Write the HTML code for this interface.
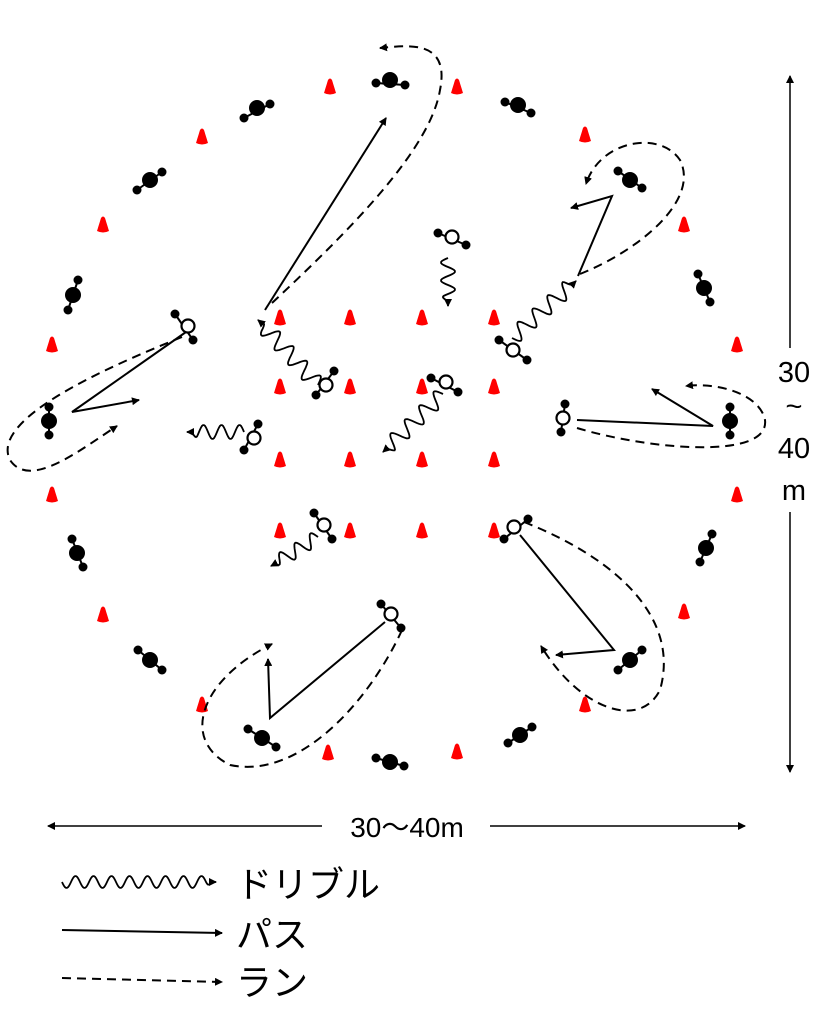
<!DOCTYPE html>
<html><head><meta charset="utf-8"><style>
html,body{margin:0;padding:0;background:#fff;width:828px;height:1023px;overflow:hidden}
svg{display:block}
</style></head><body>
<svg id="s" width="828" height="1023" viewBox="0 0 828 1023" xmlns="http://www.w3.org/2000/svg">
<defs>
<marker id="ah" markerWidth="8" markerHeight="8" refX="7" refY="4" orient="auto" markerUnits="userSpaceOnUse"><path d="M0,0 L8,4 L0,8 Z" fill="#000"/></marker>
<marker id="da" markerWidth="8" markerHeight="8" refX="7" refY="4" orient="auto-start-reverse" markerUnits="userSpaceOnUse"><path d="M0,0 L8,4 L0,8 Z" fill="#000"/></marker>
</defs>
<g id="g" fill="none" stroke="#000" stroke-width="2"></g>
<g font-family="Liberation Sans, Noto Sans CJK JP, sans-serif" fill="#000">
<line x1="48" y1="826" x2="745" y2="826" stroke="#000" stroke-width="1.5" marker-start="url(#da)" marker-end="url(#da)"/>
<rect x="322" y="808" width="168" height="36" fill="#fff"/>
<text x="407" y="837" font-size="28" text-anchor="middle">30〜40m</text>
<line x1="790" y1="76" x2="790" y2="772" stroke="#000" stroke-width="1.5" marker-start="url(#da)" marker-end="url(#da)"/>
<rect x="768" y="348" width="44" height="164" fill="#fff"/>
<text x="794" y="382" font-size="29" text-anchor="middle">30</text>
<text x="794" y="416" font-size="29" text-anchor="middle">~</text>
<text x="794" y="458" font-size="29" text-anchor="middle">40</text>
<text x="794" y="500" font-size="29" text-anchor="middle">m</text>
<text x="236" y="897" font-size="36" font-family="Noto Sans CJK JP, sans-serif">ドリブル</text>
<text x="236" y="947" font-size="36" font-family="Noto Sans CJK JP, sans-serif">パス</text>
<text x="236" y="995" font-size="36" font-family="Noto Sans CJK JP, sans-serif">ラン</text>
</g>
</svg>
<script>
var g=document.getElementById('g'),NS='http://www.w3.org/2000/svg';
function el(t,a,p){var e=document.createElementNS(NS,t);for(var k in a)e.setAttribute(k,a[k]);(p||g).appendChild(e);return e;}
function cone(x,y){el('path',{d:'M'+(x-6)+','+(y+6)+' L'+(x-2)+','+(y-7)+' Q'+x+','+(y-10)+' '+(x+2)+','+(y-7)+' L'+(x+6)+','+(y+6)+' Q'+x+','+(y+9)+' '+(x-6)+','+(y+6)+'Z',fill:'#f00',stroke:'none'});}
function pl(x,y,a,b,c,d,w){el('line',{x1:x+a,y1:y+b,x2:x+c,y2:y+d,'stroke-width':2});
el('circle',{cx:x+a,cy:y+b,r:4.5,fill:'#000',stroke:'none'});el('circle',{cx:x+c,cy:y+d,r:4.5,fill:'#000',stroke:'none'});
if(w)el('circle',{cx:x,cy:y,r:6.5,fill:'#fff','stroke-width':2.2});else el('circle',{cx:x,cy:y,r:8,fill:'#000',stroke:'none'});}
[[330,87],[457,87],[202,137],[585,135],[103,225],[684,225],[52,345],[737,345],[52,495],[737,495],[103,615],[684,612],[202,705],[585,705],[328,753],[457,752]].forEach(function(c){cone(c[0],c[1]);});
[280,350,422,494].forEach(function(x){[318,387,460,531].forEach(function(y){cone(x,y);});});
[[390,80,-14,3,15,5],[257,108,-13,10,13,-4],[518,105,-13,-3,13,8],[150,180,-13,10,12,-8],[630,180,-12,-9,12,8],[73,295,5,-15,-5,15],[704,288,-6,-14,6,14],[49,421,0,-14,0,14],[730,421,0,-14,0,14],[77,553,-5,-14,6,14],[706,548,6,-14,-6,14],[150,660,-12,-10,12,10],[630,660,12,-10,-12,10],[262,738,-14,-9,14,9],[520,735,-12,8,12,-8],[390,762,-14,-4,14,4]].forEach(function(p){pl(p[0],p[1],p[2],p[3],p[4],p[5],0);});
[[452,237,-14,-4,14,8],[188,326,-13,-12,5,14],[513,350,-14,-10,14,10],[326,385,8,-14,-10,10],[446,382,-15,-4,12,10],[254,438,4,-14,-10,12],[563,418,2,-14,-2,14],[324,525,-10,-12,8,14],[514,527,14,-8,-10,12],[391,614,-10,-10,10,14]].forEach(function(p){pl(p[0],p[1],p[2],p[3],p[4],p[5],1);});
function arrow(d,dash){var a={d:d,'marker-end':'url(#ah)','stroke-width':2};if(dash){a['stroke-dasharray']='9 6';}el('path',a);}
arrow('M265,310 L386,118');
arrow('M186,332 L72,412 L139,400');
arrow('M578,276 L612,196 L571,208');
arrow('M577,420 L713,426 L652,389');
arrow('M520,535 L614,650 L556,655');
arrow('M385,622 L270,718 L268,659');
arrow('M272,303 C350,230 430,150 440,90 C450,40 410,45 380,48',1);
arrow('M182,337 C100,370 -10,420 10,460 C30,490 80,450 117,426',1);
arrow('M580,274 C640,250 700,200 680,160 C660,130 600,140 586,184',1);
arrow('M577,428 C650,450 770,460 765,420 C760,395 720,382 686,386',1);
arrow('M524,522 C620,560 680,620 660,690 C640,730 580,710 541,646',1);
arrow('M402,630 C370,700 300,780 230,765 C180,740 200,680 272,644',1);
function wave(x1,y1,x2,y2,amp,wl){var dx=x2-x1,dy=y2-y1,L=Math.hypot(dx,dy),ux=dx/L,uy=dy/L,nx=-uy,ny=ux,d='';
for(var t=0;t<=L-4;t+=1){var o=amp*Math.sin(t/wl*2*Math.PI)*Math.min(1,(L-4-t)/6);var x=x1+ux*t+nx*o,y=y1+uy*t+ny*o;d+=(t?'L':'M')+x.toFixed(1)+','+y.toFixed(1);}
d+='L'+x2+','+y2;el('path',{d:d,'marker-end':'url(#ah)','stroke-width':1.8});}
wave(318,385,258,320,8,20);
wave(448,258,448,306,7,18);
wave(512,338,576,281,8,20);
wave(443,394,383,452,8,20);
wave(244,432,187,432,7,18);
wave(318,537,271,566,7,18);
wave(62,882,216,882,6,18);
el('line',{x1:62,y1:930,x2:222,y2:933,'stroke-width':2,'marker-end':'url(#ah)'});
el('line',{x1:62,y1:978,x2:222,y2:982,'stroke-width':2,'stroke-dasharray':'9 6','marker-end':'url(#ah)'});
</script>
</body></html>
